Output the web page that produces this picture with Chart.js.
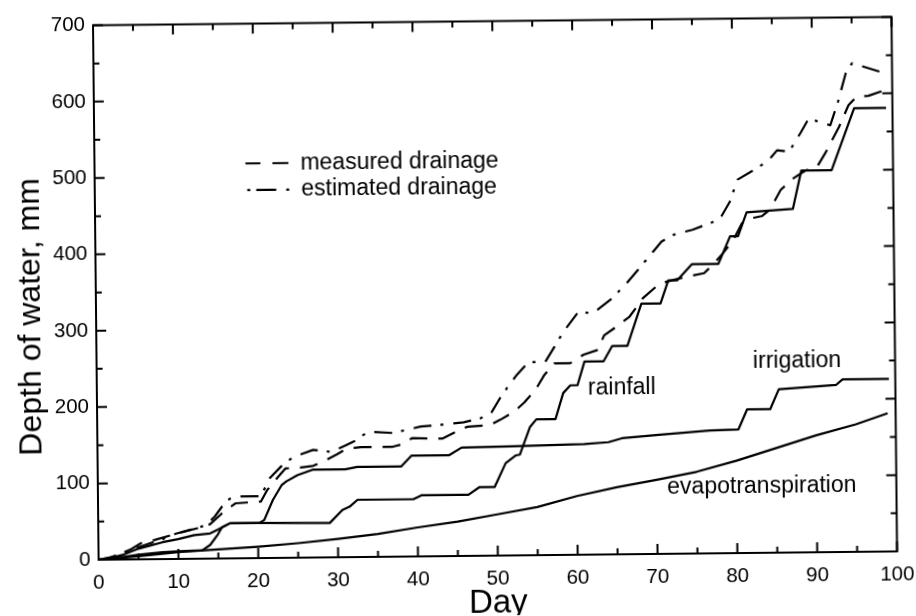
<!DOCTYPE html>
<html>
<head>
<meta charset="utf-8">
<script src="https://cdn.jsdelivr.net/npm/chart.js@4.4.1/dist/chart.umd.min.js"></script>
<style>
  html, body { margin: 0; padding: 0; background: #fff; overflow: hidden; }
  #frame { width: 916px; height: 616px; transform: rotate(-0.6deg); transform-origin: 50% 50%; background: #fff; }
  canvas { display: block; }
</style>
</head>
<body>
<div id="frame"><canvas id="chart" width="916" height="616"></canvas></div>
<script>
// Cumulative depth of water (mm) against day of the season.
const measuredDays  = [0, 2, 4, 5.3, 7, 9.7, 12.4, 14, 15.5, 17.2, 20.4, 21.2, 22.5, 23.5, 25.4, 27, 28.7, 30, 31.2, 33, 37, 38.5, 39.4, 43.2, 45, 46.3, 49.2, 50.5, 52.2, 53.5, 54.9, 56, 57.3, 59.3, 61, 62.8, 63.6, 65, 66.8, 68.5, 70.6, 73.3, 76.2, 77.5, 78.6, 79.9, 81, 82.1, 83.5, 84.5, 85.9, 87.5, 89, 90.5, 91.5, 93.3, 94.5, 95.5, 97, 99];
const measuredDepth = [0, 4, 13, 21, 25, 33, 40, 45, 59, 72, 74, 89, 105, 117, 118, 120, 128, 135, 142, 144, 144, 148, 155, 154, 163, 169, 171, 178, 188, 200, 216, 235, 251, 251, 262, 268, 287, 297, 311, 335, 354, 361, 367, 380, 393, 410, 432, 438, 441, 449, 475, 490, 500, 505, 522, 557, 585, 596, 597, 604];

const estimatedDays  = [0, 1.5, 3.3, 5.9, 8, 9.7, 12.6, 13.5, 14.6, 16.1, 17.2, 20.4, 21.5, 23, 24.5, 27, 29.3, 31, 32.4, 33.9, 37, 40.5, 43, 45.9, 48, 49.3, 50.7, 52.5, 54.1, 56.2, 57.5, 58.5, 60.4, 62.2, 64.5, 66.5, 68.8, 70.9, 72.5, 74.8, 78.2, 79.5, 80.5, 83, 84.5, 85.5, 87, 88.5, 89.5, 92.2, 93.2, 94.2, 95, 98.6, 99];
const estimatedDepth = [0, 3, 10, 19, 26, 33, 41, 44, 55, 76, 81, 81, 104, 120, 132, 141, 138, 146, 153, 164, 162, 170, 172, 175, 180, 186, 210, 235, 253, 253, 275, 292, 318, 316, 334, 355, 383, 409, 418, 424, 437, 460, 489, 504, 515, 527, 525, 550, 568, 559, 590, 627, 640, 628, 628];

const rainfallDays  = [0, 2, 5, 8, 10, 13, 14, 15, 15.5, 16.5, 20, 29, 30.6, 31.5, 32.5, 39.5, 40.5, 46.4, 47.8, 49.7, 51.1, 52.4, 52.9, 54.2, 55, 57.4, 58.4, 59.3, 60.2, 61.1, 63.5, 64.6, 66.5, 68.3, 70.7, 71.7, 72.8, 74.7, 78, 79.5, 80.5, 81.6, 87.4, 88.5, 92.3, 95.2, 99.2];
const rainfallDepth = [0, 2, 6, 9, 10, 11, 18, 32, 41, 46, 46, 45, 62, 66, 75, 75, 80, 80, 90, 90, 121, 131, 132, 168, 178, 178, 212, 222, 222, 253, 253, 273, 273, 328, 328, 358, 358, 379, 379, 415, 415, 446, 450, 500, 500, 581, 581];

const irrigationDays  = [0, 1, 3, 5, 8, 10, 12, 14, 15, 16.5, 20.2, 20.8, 21.9, 23, 23.6, 25, 26.9, 31, 32.5, 38, 39.3, 44, 45.6, 52, 61, 64, 65.7, 70.4, 76.7, 80.3, 81.4, 84.3, 85.4, 92.6, 93.4, 99.2];
const irrigationDepth = [0, 1, 6, 14, 22, 26, 31, 33, 38, 46, 46, 50, 76, 95, 100, 108, 115, 115, 118, 118, 132, 132, 142, 143, 145, 147, 152, 156, 161, 162, 188, 188, 214, 219, 226, 226];

const etDays  = [0, 5, 10, 15, 20, 25, 30, 35, 40, 45, 50, 55, 60, 65, 70, 75, 80, 85, 90, 95, 99];
const etDepth = [0, 4, 9, 12, 15, 19, 24, 30, 38, 45, 54, 63, 77, 88, 97, 107, 121, 137, 153, 167, 181];

const FONT = "'Liberation Sans', Arial, Helvetica, sans-serif";

function pairs(days, depth) {
  return days.map((d, i) => ({ x: d, y: depth[i] }));
}

function series(label, days, depth, dash) {
  return {
    label,
    data: pairs(days, depth),
    borderColor: '#000',
    borderWidth: 2.2,
    borderDash: dash,
    borderCapStyle: 'butt',
    borderJoinStyle: 'round',
    pointRadius: 0,
    tension: 0,
    fill: false
  };
}

// Boxed frame with inward major / minor tick marks on all four sides.
const frameTicks = {
  id: 'frameTicks',
  afterDatasetsDraw(chart) {
    const { ctx, chartArea: a, scales: { x, y } } = chart;
    const MAJOR = 10, MINOR = 6;
    const withMinor = vals => {
      const out = [];
      vals.forEach((v, i) => {
        out.push([v, MAJOR]);
        if (i < vals.length - 1) out.push([(v + vals[i + 1]) / 2, MINOR]);
      });
      return out;
    };
    ctx.save();
    ctx.strokeStyle = '#000';
    ctx.lineWidth = 2;
    ctx.setLineDash([]);
    ctx.strokeRect(a.left, a.top, a.right - a.left, a.bottom - a.top);
    ctx.beginPath();
    withMinor(x.ticks.map(t => t.value)).forEach(([v, len]) => {
      const px = x.getPixelForValue(v);
      ctx.moveTo(px, a.bottom); ctx.lineTo(px, a.bottom - len);
      ctx.moveTo(px, a.top);    ctx.lineTo(px, a.top + len);
    });
    withMinor(y.ticks.map(t => t.value)).forEach(([v, len]) => {
      const py = y.getPixelForValue(v);
      ctx.moveTo(a.left, py);  ctx.lineTo(a.left + len, py);
      ctx.moveTo(a.right, py); ctx.lineTo(a.right - len, py);
    });
    ctx.stroke();
    ctx.restore();
  }
};

// Vertical axis title, legend block inside the plot and the inline curve names.
const annotations = {
  id: 'annotations',
  afterDatasetsDraw(chart, args, opts) {
    const { ctx, chartArea: a, scales: { x, y } } = chart;
    ctx.save();
    ctx.fillStyle = '#000';
    ctx.strokeStyle = '#000';
    ctx.textBaseline = 'middle';

    // y-axis title
    ctx.save();
    ctx.font = `${opts.yTitle.size}px ${FONT}`;
    ctx.textAlign = 'center';
    ctx.translate(opts.yTitle.left, y.getPixelForValue(opts.yTitle.at));
    ctx.rotate(-Math.PI / 2);
    ctx.fillText(opts.yTitle.text, 0, 0);
    ctx.restore();

    ctx.font = `${opts.fontSize}px ${FONT}`;
    ctx.textAlign = 'left';
    opts.legend.forEach(item => {
      const ds = chart.data.datasets[item.dataset];
      const px = x.getPixelForValue(item.x);
      const py = y.getPixelForValue(item.y);
      ctx.lineWidth = 2.2;
      ctx.lineCap = 'butt';
      ctx.setLineDash(item.dash);
      ctx.beginPath();
      ctx.moveTo(px, py);
      ctx.lineTo(px + item.len, py);
      ctx.stroke();
      ctx.setLineDash([]);
      ctx.fillText(ds.label, px + item.len + item.gap, py);
    });
    opts.labels.forEach(l => {
      ctx.fillText(l.text, x.getPixelForValue(l.x), y.getPixelForValue(l.y));
    });
    ctx.restore();
  }
};

const datasets = [
  series('measured drainage', measuredDays, measuredDepth, [18, 11]),
  series('estimated drainage', estimatedDays, estimatedDepth, [18, 9, 3, 10]),
  series('rainfall', rainfallDays, rainfallDepth, []),
  series('irrigation', irrigationDays, irrigationDepth, []),
  series('evapotranspiration', etDays, etDepth, [])
];

new Chart(document.getElementById('chart'), {
  type: 'line',
  data: { datasets },
  plugins: [frameTicks, annotations],
  options: {
    responsive: false,
    animation: false,
    devicePixelRatio: 1,
    layout: { padding: { left: 0, right: 21.5, top: 21.5, bottom: 0 } },
    plugins: {
      legend: { display: false },
      tooltip: { enabled: false },
      annotations: {
        fontSize: 23,
        yTitle: { text: 'Depth of water, mm', size: 32, left: 31, at: 319 },
        legend: [
          { dataset: 0, x: 18.9, y: 517, len: 43, gap: 12, dash: [15, 12, 16] },
          { dataset: 1, x: 19.1, y: 482, len: 42, gap: 12, dash: [3, 6, 20, 10, 3, 20] }
        ],
        labels: [
          { text: 'rainfall', x: 61.5, y: 218 },
          { text: 'irrigation', x: 82.2, y: 250 },
          { text: 'evapotranspiration', x: 71.3, y: 87 }
        ]
      }
    },
    scales: {
      x: {
        type: 'linear',
        min: 0,
        max: 100,
        grid: { display: false, drawTicks: false },
        border: { display: false },
        ticks: {
          stepSize: 10,
          autoSkip: false,
          maxRotation: 0,
          padding: 11,
          color: '#000',
          font: { family: FONT, size: 20.5 }
        },
        title: {
          display: true,
          text: 'Day',
          color: '#000',
          padding: 0,
          font: { family: FONT, size: 33, lineHeight: 0.72 }
        },
        afterFit(s) { s.height = 60; s.paddingLeft = 0; s.paddingRight = 0; }
      },
      y: {
        min: 0,
        max: 700,
        grid: { display: false, drawTicks: false },
        border: { display: false },
        ticks: {
          stepSize: 100,
          padding: 8,
          color: '#000',
          font: { family: FONT, size: 20.5 }
        },
        afterFit(s) { s.width = 96; s.paddingTop = 0; s.paddingBottom = 0; }
      }
    }
  }
});
</script>
</body>
</html>
